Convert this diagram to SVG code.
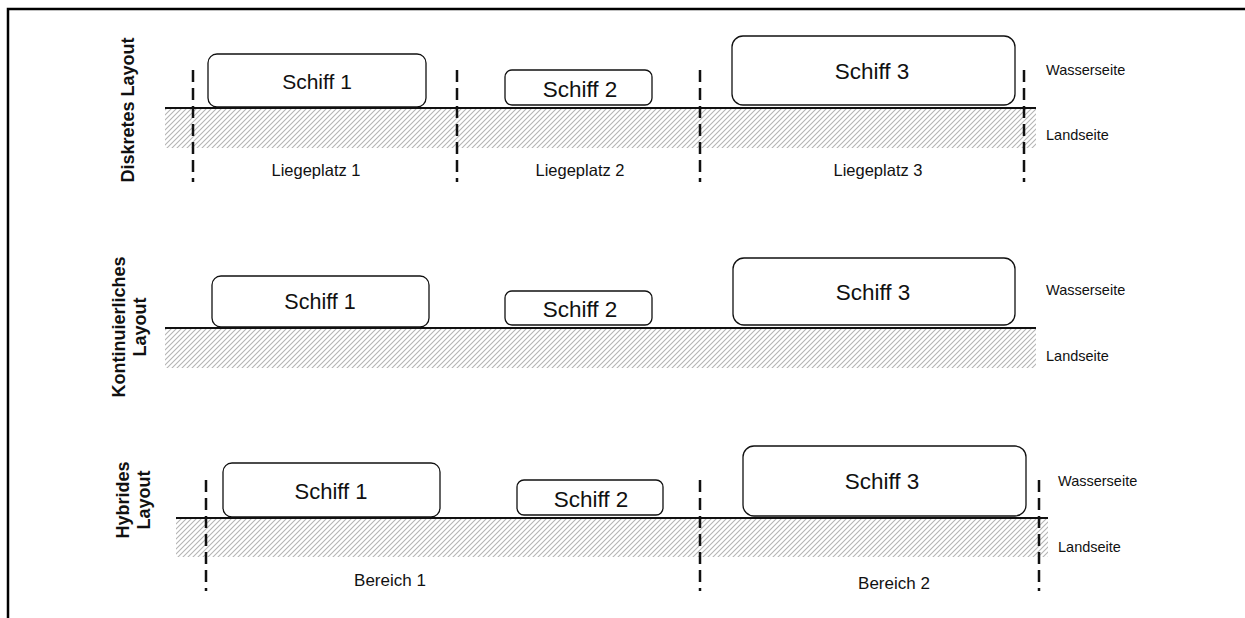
<svg xmlns="http://www.w3.org/2000/svg" width="1245" height="618" viewBox="0 0 1245 618">
<defs>
<pattern id="hatch" patternUnits="userSpaceOnUse" width="5" height="5">
<path d="M-1,6 L6,-1 M-1,1 L1,-1 M4,6 L6,4" stroke="#b4b4b4" stroke-width="1.1"/>
</pattern>
</defs>
<style>
text{font-family:"Liberation Sans",Arial,sans-serif;fill:#111}
.ship{fill:#fff;stroke:#111;stroke-width:1.3}
.st{font-size:22.5px;text-anchor:middle}
.lbl{font-size:16.5px;text-anchor:middle}
.side{font-size:14.5px}
.ttl{font-size:18px;font-weight:bold;text-anchor:middle}
.ground{stroke:#111;stroke-width:2}
.div{stroke:#111;stroke-width:2.5;stroke-dasharray:12 6;fill:none}
</style>
<rect width="1245" height="618" fill="#fff"/>
<path d="M8,618 L8,9 L1245,9" fill="none" stroke="#000" stroke-width="2.5"/>

<g id="row1">
<rect x="165" y="109" width="871" height="39" fill="url(#hatch)"/>
<line class="ground" x1="165" y1="108" x2="1036" y2="108"/>
<text class="ttl" transform="translate(134,110) rotate(-90)">Diskretes Layout</text>
<g id="r1-divs">
<line class="div" x1="193" y1="70" x2="193" y2="182"/>
<line class="div" x1="457" y1="70" x2="457" y2="182"/>
<line class="div" x1="700" y1="70" x2="700" y2="182"/>
<line class="div" x1="1024" y1="70" x2="1024" y2="182"/>
</g>
<g id="r1-ship1"><rect class="ship" x="208" y="54" width="218" height="53" rx="9"/><text class="st" x="317" y="89" style="font-size:21px">Schiff 1</text></g>
<g id="r1-ship2"><rect class="ship" x="505" y="70" width="147" height="35" rx="7"/><text class="st" x="580" y="97">Schiff 2</text></g>
<g id="r1-ship3"><rect class="ship" x="732" y="36" width="283" height="69" rx="11"/><text class="st" x="872" y="79">Schiff 3</text></g>
<text class="lbl" x="316" y="176">Liegeplatz 1</text>
<text class="lbl" x="580" y="176">Liegeplatz 2</text>
<text class="lbl" x="878" y="176">Liegeplatz 3</text>
<text class="side" x="1046" y="75">Wasserseite</text>
<text class="side" x="1046" y="140">Landseite</text>
</g>

<g id="row2">
<rect x="165" y="329" width="871" height="39" fill="url(#hatch)"/>
<line class="ground" x1="165" y1="328" x2="1036" y2="328"/>
<text class="ttl" transform="translate(125,327) rotate(-90)">Kontinuierliches</text>
<text class="ttl" transform="translate(146,327) rotate(-90)">Layout</text>
<g id="r2-ship1"><rect class="ship" x="212" y="276" width="217" height="51" rx="9"/><text class="st" x="320" y="309" style="font-size:21.5px">Schiff 1</text></g>
<g id="r2-ship2"><rect class="ship" x="505" y="291" width="147" height="34" rx="7"/><text class="st" x="580" y="317">Schiff 2</text></g>
<g id="r2-ship3"><rect class="ship" x="733" y="258" width="282" height="67" rx="11"/><text class="st" x="873" y="300">Schiff 3</text></g>
<text class="side" x="1046" y="295">Wasserseite</text>
<text class="side" x="1046" y="361">Landseite</text>
</g>

<g id="row3">
<rect x="176" y="519" width="872" height="38" fill="url(#hatch)"/>
<line class="ground" x1="176" y1="518" x2="1048" y2="518"/>
<text class="ttl" transform="translate(129,500) rotate(-90)">Hybrides</text>
<text class="ttl" transform="translate(150,500) rotate(-90)">Layout</text>
<g id="r3-divs">
<line class="div" x1="206" y1="480" x2="206" y2="591"/>
<line class="div" x1="700" y1="480" x2="700" y2="591"/>
<line class="div" x1="1039" y1="480" x2="1039" y2="591"/>
</g>
<g id="r3-ship1"><rect class="ship" x="223" y="463" width="217" height="54" rx="9"/><text class="st" x="331" y="499" style="font-size:22px">Schiff 1</text></g>
<g id="r3-ship2"><rect class="ship" x="517" y="480" width="146" height="35" rx="7"/><text class="st" x="591" y="507">Schiff 2</text></g>
<g id="r3-ship3"><rect class="ship" x="743" y="446" width="283" height="70" rx="11"/><text class="st" x="882" y="489">Schiff 3</text></g>
<text class="lbl" x="390" y="586" style="font-size:17px">Bereich 1</text>
<text class="lbl" x="894" y="589" style="font-size:17px">Bereich 2</text>
<text class="side" x="1058" y="486">Wasserseite</text>
<text class="side" x="1058" y="552">Landseite</text>
</g>
</svg>
